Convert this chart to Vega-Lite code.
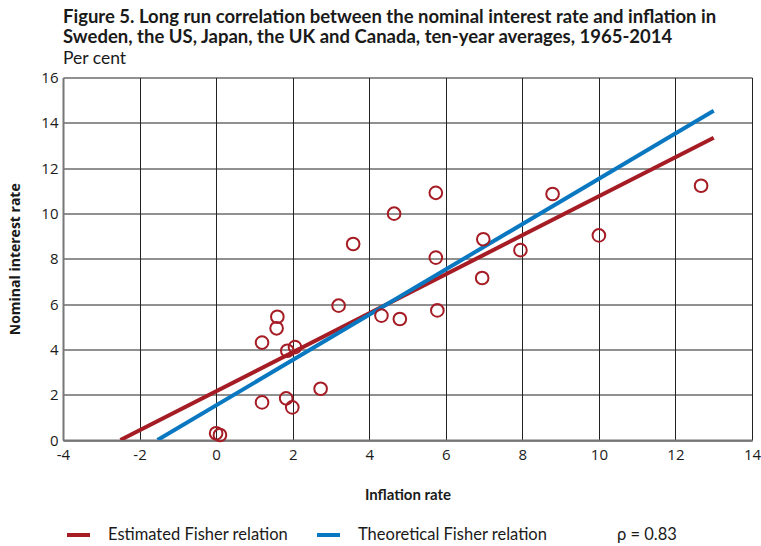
{
  "$schema": "https://vega.github.io/schema/vega-lite/v6.json",
  "autosize": "none",
  "padding": {"left": 63, "top": 77.5, "right": 9, "bottom": 106},
  "width": 689,
  "height": 362.5,
  "background": "white",
  "title": {
    "text": ["Figure 5. Long run correlation between the nominal interest rate and inflation in", "Sweden, the US, Japan, the UK and Canada, ten-year averages, 1965-2014"],
    "subtitle": "Per cent",
    "anchor": "start",
    "frame": "group",
    "font": "Lato",
    "fontSize": 18.5,
    "fontWeight": "bold",
    "color": "#1a1a1a",
    "lineHeight": 20,
    "subtitleFont": "Lato",
    "subtitleFontSize": 17.5,
    "subtitleColor": "#1a1a1a",
    "subtitlePadding": 4,
    "offset": 3
  },
  "datasets": {
    "points": [
      {"inflation": 0.0, "interest": 0.3},
      {"inflation": 0.1, "interest": 0.22},
      {"inflation": 1.2, "interest": 4.3},
      {"inflation": 1.6, "interest": 5.44},
      {"inflation": 1.58, "interest": 4.93},
      {"inflation": 1.86, "interest": 3.94},
      {"inflation": 2.06, "interest": 4.1},
      {"inflation": 3.2, "interest": 5.93},
      {"inflation": 1.2, "interest": 1.66},
      {"inflation": 1.83, "interest": 1.84},
      {"inflation": 1.99, "interest": 1.44},
      {"inflation": 2.73, "interest": 2.26},
      {"inflation": 3.58, "interest": 8.65},
      {"inflation": 4.65, "interest": 9.99},
      {"inflation": 5.74, "interest": 10.91},
      {"inflation": 5.74, "interest": 8.05},
      {"inflation": 6.98, "interest": 8.86},
      {"inflation": 7.95, "interest": 8.38},
      {"inflation": 6.95, "interest": 7.15},
      {"inflation": 4.32, "interest": 5.49},
      {"inflation": 4.8, "interest": 5.34},
      {"inflation": 5.78, "interest": 5.72},
      {"inflation": 8.79, "interest": 10.86},
      {"inflation": 10.0, "interest": 9.03},
      {"inflation": 12.67, "interest": 11.22}
    ],
    "lines": [
      {"series": "Estimated Fisher relation", "inflation": -2.5, "interest": 0},
      {"series": "Estimated Fisher relation", "inflation": 13, "interest": 13.34},
      {"series": "Theoretical Fisher relation", "inflation": -1.53, "interest": 0},
      {"series": "Theoretical Fisher relation", "inflation": 13, "interest": 14.53}
    ]
  },
  "config": {
    "view": {"stroke": null},
    "axis": {
      "grid": true,
      "gridColor": "#222",
      "gridWidth": 1,
      "gridOpacity": 1,
      "domainColor": "#777",
      "domainWidth": 2,
      "ticks": false,
      "labelFont": "Open Sans",
      "labelFontSize": 15,
      "labelColor": "#1a1a1a",
      "titleColor": "#1a1a1a"
    }
  },
  "layer": [
    {
      "data": {"name": "lines"},
      "mark": {"type": "line", "strokeWidth": 4, "clip": true},
      "encoding": {
        "x": {
          "field": "inflation", "type": "quantitative",
          "scale": {"domain": [-4, 14], "nice": false, "zero": false},
          "axis": {
            "values": [-4, -2, 0, 2, 4, 6, 8, 10, 12, 14],
            "labelExpr": "datum.value < 0 ? '-' + abs(datum.value) : '' + datum.value",
            "labelFlush": false,
            "labelPadding": 7,
            "title": "Inflation rate",
            "titleFont": "Lato",
            "titleFontSize": 15,
            "titleFontWeight": "bold",
            "titlePadding": 25
          }
        },
        "y": {
          "field": "interest", "type": "quantitative",
          "scale": {"domain": [0, 16], "nice": false},
          "axis": {
            "values": [0, 2, 4, 6, 8, 10, 12, 14, 16],
            "labelPadding": 5,
            "title": "Nominal interest rate",
            "titleFont": "Open Sans",
            "titleFontSize": 14,
            "titleFontWeight": "bold",
            "titlePadding": 18
          }
        },
        "color": {
          "field": "series", "type": "nominal",
          "scale": {
            "domain": ["Estimated Fisher relation", "Theoretical Fisher relation", "ρ = 0.83"],
            "range": ["#a51c24", "#0a78c0", "transparent"]
          },
          "legend": {
            "title": null,
            "orient": "none",
            "legendX": 2,
            "legendY": 444,
            "direction": "horizontal",
            "symbolType": "stroke",
            "symbolStrokeWidth": 4,
            "symbolSize": 529,
            "labelFont": "Lato",
            "labelFontSize": 16.5,
            "labelColor": "#1a1a1a",
            "labelOffset": 16,
            "labelLimit": 300,
            "columnPadding": 20
          }
        }
      }
    },
    {
      "data": {"name": "points"},
      "mark": {"type": "point", "shape": "circle", "filled": false, "size": 160, "strokeWidth": 2, "color": "#a51c24", "opacity": 1},
      "encoding": {
        "x": {"field": "inflation", "type": "quantitative"},
        "y": {"field": "interest", "type": "quantitative"}
      }
    }
  ]
}
